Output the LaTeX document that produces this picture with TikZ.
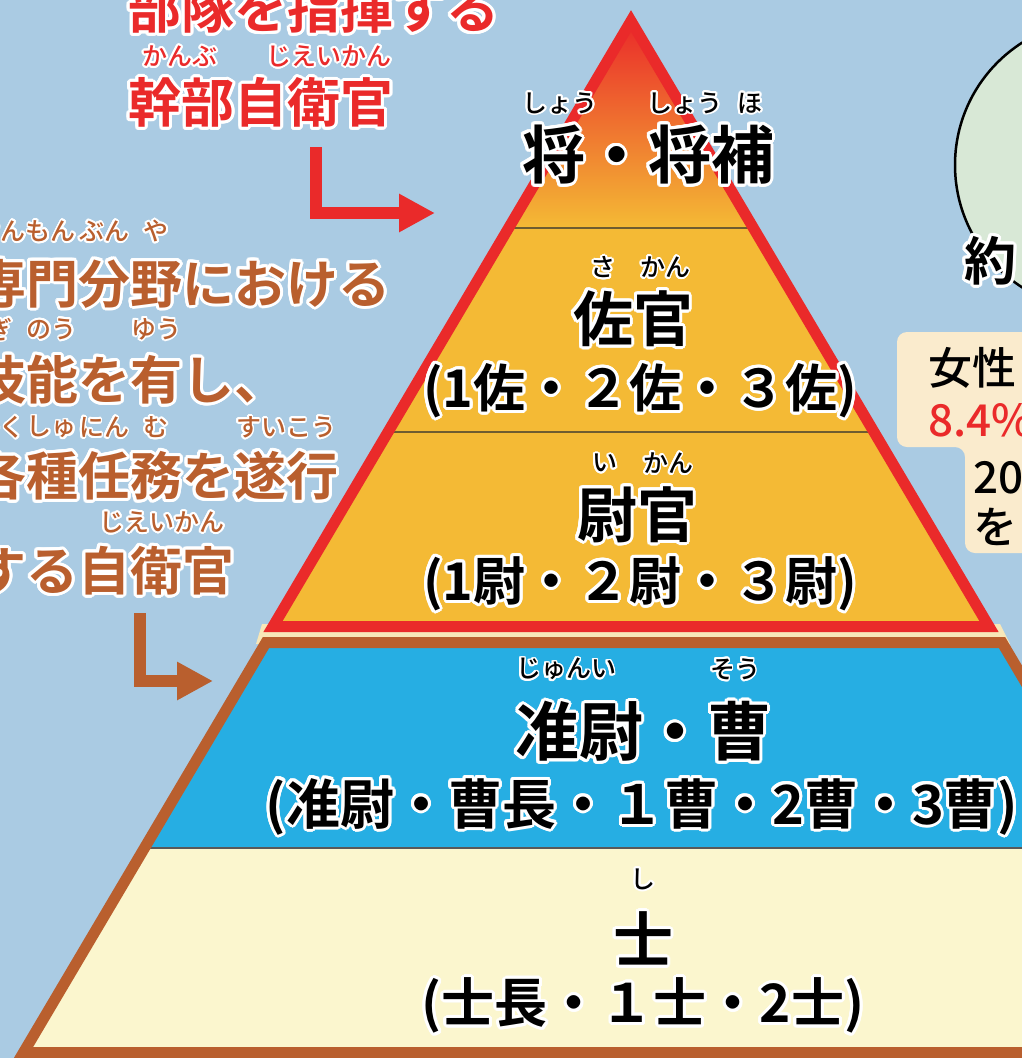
\documentclass[tikz,border=0pt]{standalone}
\usepackage{fontspec}
\usepackage[copies]{contour}
\usetikzlibrary{arrows.meta}

\newfontfamily\jpfont{Noto Sans CJK JP}[UprightFont={* Medium}, BoldFont={* Bold}]

\definecolor{skyback}{RGB}{170,203,227}
\definecolor{kanbured}{RGB}{234,42,42}
\definecolor{sobrown}{RGB}{185,95,46}
\definecolor{kangold}{RGB}{244,186,53}
\definecolor{kanorange}{RGB}{240,122,42}
\definecolor{soblue}{RGB}{38,174,227}
\definecolor{shicream}{RGB}{251,246,206}
\definecolor{gapcream}{RGB}{248,231,184}
\definecolor{notecream}{RGB}{250,235,205}
\definecolor{circgreen}{RGB}{216,232,214}
\definecolor{tierbrown}{RGB}{110,92,48}

\contourlength{3pt}
\contournumber{24}
\newcommand{\halo}[1]{\contour{white}{#1}}
\newcommand{\rubyhalo}[1]{{\contourlength{1.8pt}\contour{white}{#1}}}

\begin{document}
\begin{tikzpicture}[
       x=1pt,y=-1pt,
       big/.style={
         font=\jpfont\bfseries\fontsize{60}{60}\selectfont,
         inner sep=0pt
       },
       sub/.style={
         font=\jpfont\bfseries\fontsize{52}{52}\selectfont,
         inner sep=0pt
       },
       ruby/.style={
         font=\jpfont\fontsize{25}{25}\selectfont,
         inner sep=0pt
       },
       side/.style={
         font=\jpfont\bfseries\fontsize{53}{53}\selectfont,
         inner sep=0pt,
         anchor=west
       },
       note/.style={
         font=\jpfont\fontsize{44}{44}\selectfont,
         inner sep=0pt,
         anchor=west
       },
       tiersep/.style={draw=tierbrown, line width=2pt},
       elbow/.style={
         line width=12pt,
         -{Triangle[length=36pt,width=36pt]}
       }
     ]

       \useasboundingbox (0,0) rectangle (1022,1058);
       \clip (0,0) rectangle (1022,1058);
       \fill[skyback] (0,0) rectangle (1022,1058);

       % right hand side, cut off
       \draw[fill=circgreen, line width=2.5pt] (1100,165) circle (145);
       \fill[notecream, rounded corners=10pt]
         (1060,332) -- (897,332) -- (897,447) -- (965,447)
         -- (965,553) -- (1060,553) -- cycle;

       % pyramid fills
       \fill[gapcream] (262,624) -- (1000,624) -- (1010,644) -- (256,644) -- cycle;
       \shade[top color=kanbured, middle color=kanorange, bottom color=kangold]
         (631,21) -- (508.5,228) -- (753.5,228) -- cycle;
       \fill[kangold] (508.5,228) -- (753.5,228) -- (989,626.5) -- (273,626.5) -- cycle;
       \fill[soblue] (266,642.5) -- (1002,642.5) -- (1123.7,848) -- (144.3,848) -- cycle;
       \fill[shicream] (144.3,848) -- (1123.7,848) -- (1244.5,1052.5) -- (23.5,1052.5) -- cycle;

       \draw[tiersep] (508.5,228) -- (753.5,228);
       \draw[tiersep] (387.7,432) -- (874.3,432);
       \draw[draw=black!65, line width=2pt] (144.3,848) -- (1123.7,848);

       \draw[kanbured, line width=11pt] (631,21) -- (273,626.5) -- (989,626.5) -- cycle;
       \draw[sobrown, line width=11pt] (266,642.5) -- (1002,642.5) -- (1244.5,1052.5)
         -- (23.5,1052.5) -- cycle;

       % tier labels
       \node[ruby] (shoR1) at (560,104) {\rubyhalo{しょう}};
       \node[ruby] (shoR2) at (685,104) {\rubyhalo{しょう}};
       \node[ruby] (shoR3) at (750,104) {\rubyhalo{ほ}};
       \node[big, font=\jpfont\bfseries\fontsize{63}{63}\selectfont] (sho) at (648,156) {\halo{将・将補}};

       \node[ruby] (saR1) at (603,268) {\rubyhalo{さ}};
       \node[ruby] (saR2) at (665,268) {\rubyhalo{かん}};
       \node[big] (sa) at (633,320) {\halo{佐官}};
       \node[sub] (saSub) at (640,392) {\halo{(1佐・２佐・３佐)}};

       \node[ruby] (iR1) at (605,464) {\rubyhalo{い}};
       \node[ruby] (iR2) at (668,464) {\rubyhalo{かん}};
       \node[big] (i) at (637,516) {\halo{尉官}};
       \node[sub] (iSub) at (640,585) {\halo{(1尉・２尉・３尉)}};

       \node[ruby] (junR1) at (566,670) {\rubyhalo{じゅんい}};
       \node[ruby] (junR2) at (735,670) {\rubyhalo{そう}};
       \node[big, font=\jpfont\bfseries\fontsize{64}{64}\selectfont] (jun) at (643,733) {\halo{准尉・曹}};
       \node[sub, font=\jpfont\bfseries\fontsize{54}{54}\selectfont] (junSub) at (642,808) {\halo{(准尉・曹長・１曹・2曹・3曹)}};

       \node[ruby] (shiR) at (643,880) {\rubyhalo{し}};
       \node[big] (shi) at (643,940) {\halo{士}};
       \node[sub, font=\jpfont\bfseries\fontsize{53}{53}\selectfont] (shiSub) at (643,1007) {\halo{(士長・１士・2士)}};

       % officers, red
       \node[side, text=kanbured] (butai) at (128,10) {\halo{部隊を指揮する}};
       \node[ruby, text=kanbured] (kanR1) at (180,57) {\rubyhalo{かんぶ}};
       \node[ruby, text=kanbured] (kanR2) at (329,57) {\rubyhalo{じえいかん}};
       \node[side, text=kanbured] (kanbu) at (128,104) {\halo{幹部自衛官}};

       % NCOs, brown
       \node[ruby, text=sobrown] (senR1) at (26,232) {\rubyhalo{せんもん}};
       \node[ruby, text=sobrown] (senR2) at (104,232) {\rubyhalo{ぶん}};
       \node[ruby, text=sobrown] (senR3) at (156,232) {\rubyhalo{や}};
       \node[side, text=sobrown, font=\jpfont\bfseries\fontsize{52}{52}\selectfont] (senmon) at (-26,285) {\halo{専門分野における}};
       \node[ruby, text=sobrown] (giR1) at (0,330) {\rubyhalo{ぎ}};
       \node[ruby, text=sobrown] (giR2) at (52,330) {\rubyhalo{のう}};
       \node[ruby, text=sobrown] (giR3) at (156,330) {\rubyhalo{ゆう}};
       \node[side, text=sobrown, font=\jpfont\bfseries\fontsize{52}{52}\selectfont] (gino) at (-26,381) {\halo{技能を有し、}};
       \node[ruby, text=sobrown] (kakuR1) at (0,428) {\rubyhalo{かく}};
       \node[ruby, text=sobrown] (kakuR2) at (52,428) {\rubyhalo{しゅ}};
       \node[ruby, text=sobrown] (kakuR3) at (104,428) {\rubyhalo{にん}};
       \node[ruby, text=sobrown] (kakuR4) at (156,428) {\rubyhalo{む}};
       \node[ruby, text=sobrown] (kakuR5) at (286,428) {\rubyhalo{すいこう}};
       \node[side, text=sobrown, font=\jpfont\bfseries\fontsize{52}{52}\selectfont] (kakushu) at (-26,477) {\halo{各種任務を遂行}};
       \node[ruby, text=sobrown] (jieiR) at (162,523) {\rubyhalo{じえいかん}};
       \node[side, text=sobrown, font=\jpfont\bfseries\fontsize{52}{52}\selectfont] (jiei) at (-26,572) {\halo{する自衛官}};

       % right notes
       \node[note, font=\jpfont\bfseries\fontsize{52}{52}\selectfont] (yaku) at (964,262) {\halo{約}};
       \node[note] (josei) at (928,368) {女性};
       \node[note, text=kanbured] (ratio) at (928,420) {8.4\%};
       \node[note] (nen) at (973,478) {20};
       \node[note] (wo) at (973,527) {を};

       % arrows
       \coordinate (kanbuFoot) at (316,147);
       \coordinate (shoTip) at (435,213);
       \coordinate (jieiFoot) at (140,613);
       \coordinate (junTip) at (213,681);
       \draw[elbow, kanbured] (kanbuFoot) |- (shoTip);
       \draw[elbow, sobrown] (jieiFoot) |- (junTip);

\end{tikzpicture}
\end{document}
